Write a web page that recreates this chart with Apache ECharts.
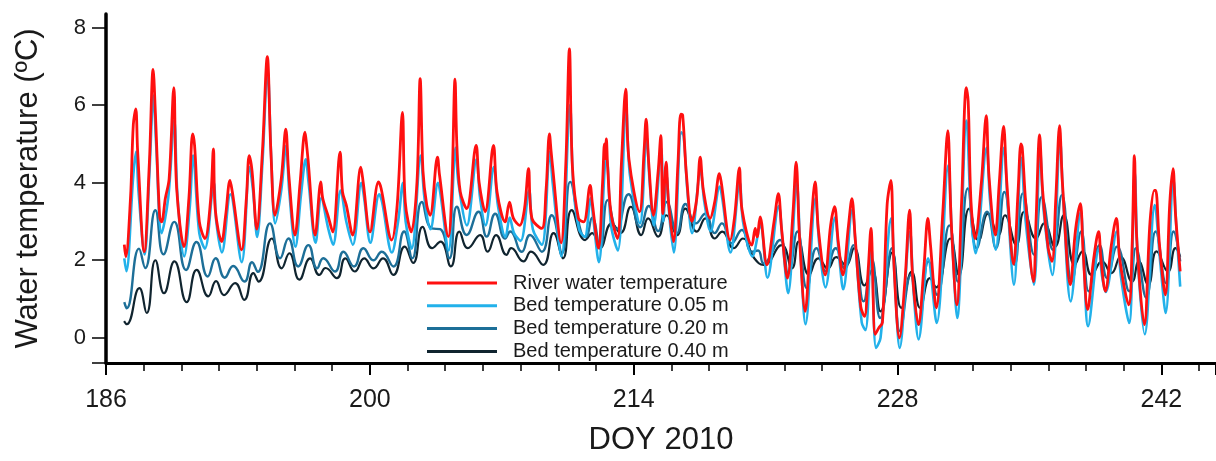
<!DOCTYPE html>
<html>
<head>
<meta charset="utf-8">
<script src="https://cdn.jsdelivr.net/npm/echarts@6/dist/echarts.min.js"></script>
<style>
  html, body { margin: 0; padding: 0; background: #ffffff; }
  #chart { width: 1216px; height: 461px; }
</style>
</head>
<body>
<div id="chart"></div>
<script>
// Day-of-year vs temperature (ºC), peaks and troughs of the diurnal cycle.
const seriesNames = [
  'River water temperature',
  'Bed temperature 0.05 m',
  'Bed temperature 0.20 m',
  'Bed temperature 0.40 m'
];

const river = [
  [186.97, 2.40], [187.05, 2.09], [187.30, 3.6], [187.45, 5.5], [187.58, 5.9], [187.68, 4.8], [188.03, 2.22],
  [188.30, 4.5], [188.50, 6.92], [188.62, 5.8], [188.85, 3.1], [188.95, 2.99], [189.15, 3.6], [189.35, 4.1],
  [189.60, 6.45], [189.75, 3.85], [190.14, 2.35], [190.40, 3.6], [190.60, 5.26], [190.70, 4.96], [190.95, 3.0],
  [191.25, 2.56], [191.55, 3.55], [191.70, 4.87], [191.80, 3.3], [192.14, 2.48], [192.35, 3.16], [192.58, 4.06],
  [192.70, 3.77], [193.20, 2.27], [193.45, 3.6], [193.60, 4.7], [193.75, 4.3], [194.00, 2.8], [194.30, 4.8],
  [194.56, 7.25], [194.75, 4.8], [194.97, 3.16], [195.30, 4.1], [195.54, 5.38], [195.70, 4.2], [196.03, 2.65],
  [196.30, 4.0], [196.56, 5.3], [196.66, 4.9], [196.72, 4.6], [197.10, 2.65], [197.40, 4.02], [197.50, 3.6],
  [197.78, 3.15], [198.03, 2.73], [198.42, 4.79], [198.55, 3.76], [198.75, 3.42], [199.09, 2.65], [199.52, 4.4],
  [199.65, 4.0], [200.01, 2.73], [200.46, 4.02], [200.60, 3.85], [201.16, 2.52], [201.45, 3.42], [201.73, 5.81],
  [201.88, 3.5], [202.20, 2.73], [202.50, 4.0], [202.67, 6.68], [202.82, 4.3], [203.02, 3.42], [203.20, 3.16],
  [203.59, 4.66], [203.70, 4.19], [204.17, 2.61], [204.35, 3.8], [204.52, 6.67], [204.62, 4.95], [204.80, 3.76],
  [205.14, 3.33], [205.64, 4.96], [205.80, 4.0], [206.12, 3.25], [206.56, 4.96], [206.75, 3.76], [207.18, 2.99],
  [207.41, 3.5], [207.62, 3.08], [207.95, 2.9], [208.20, 3.3], [208.42, 4.36], [208.60, 3.08], [209.12, 2.82],
  [209.35, 3.8], [209.53, 5.26], [209.62, 4.8], [209.68, 4.5], [210.15, 2.45], [210.40, 4.5], [210.59, 7.45],
  [210.75, 4.4], [211.07, 3.08], [211.35, 2.99], [211.69, 3.93], [211.80, 3.5], [212.13, 2.31], [212.35, 4.0],
  [212.45, 5.0], [212.50, 4.62], [212.55, 5.13], [212.62, 4.4], [212.80, 3.2], [213.14, 2.56], [213.35, 4.5],
  [213.58, 6.41], [213.75, 4.6], [214.31, 3.25], [214.55, 4.8], [214.66, 5.64], [214.80, 4.5], [215.05, 3.16],
  [215.30, 4.3], [215.44, 5.21], [215.55, 3.2], [215.72, 4.53], [215.85, 3.5], [216.11, 2.48], [216.35, 4.5],
  [216.50, 5.77], [216.60, 5.74], [216.80, 4.2], [217.09, 3.0], [217.35, 3.6], [217.53, 4.66], [217.70, 3.8],
  [218.06, 3.08], [218.30, 3.5], [218.55, 4.23], [218.65, 4.0], [219.12, 2.52], [219.35, 3.1], [219.61, 4.38],
  [219.75, 3.3], [220.27, 2.39], [220.45, 2.82], [220.55, 2.6], [220.71, 3.12], [221.07, 1.88], [221.45, 3.0],
  [221.68, 3.72], [221.85, 2.8], [222.16, 1.54], [222.45, 3.2], [222.62, 4.53], [222.80, 2.6], [223.10, 0.68],
  [223.40, 2.8], [223.63, 4.02], [223.80, 2.8], [224.16, 1.62], [224.45, 2.9], [224.66, 3.38], [224.85, 2.5],
  [225.10, 1.62], [225.40, 2.9], [225.58, 3.59], [225.75, 2.6], [226.05, 0.8], [226.25, 0.55], [226.45, 1.8],
  [226.59, 2.82], [226.82, 0.09], [227.00, 0.25], [227.20, 0.4], [227.45, 3.44], [227.65, 4.06], [227.80, 2.0],
  [228.10, 0.0], [228.40, 1.5], [228.64, 3.29], [228.80, 1.6], [229.11, 0.34], [229.40, 1.8], [229.61, 3.08],
  [229.75, 2.39], [230.06, 0.77], [230.40, 3.2], [230.67, 5.34], [230.85, 3.0], [231.15, 0.85], [231.40, 3.5],
  [231.65, 6.45], [231.75, 6.1], [231.90, 3.5], [232.12, 2.56], [232.45, 4.0], [232.71, 5.73], [232.85, 4.2],
  [233.19, 2.65], [233.40, 4.0], [233.63, 5.45], [233.80, 4.0], [234.16, 1.9], [234.40, 3.8], [234.55, 5.0],
  [234.62, 4.9], [234.80, 3.5], [235.22, 1.45], [235.35, 3.0], [235.54, 5.23], [235.70, 3.8], [236.00, 2.3],
  [236.20, 1.97], [236.40, 3.6], [236.60, 5.47], [236.75, 4.0], [237.17, 1.37], [237.45, 2.8], [237.70, 3.46],
  [237.85, 2.2], [238.09, 0.73], [238.40, 2.0], [238.67, 2.74], [238.80, 2.0], [239.03, 1.2], [239.35, 2.4],
  [239.61, 3.08], [239.80, 2.0], [240.27, 0.85], [240.45, 2.4], [240.57, 4.7], [240.70, 2.5], [241.10, 0.34],
  [241.40, 3.0], [241.63, 3.8], [241.70, 3.8], [241.90, 2.4], [242.21, 1.11], [242.45, 3.5], [242.62, 4.36],
  [242.75, 3.2], [243.00, 1.71]
];

const bed005 = [
  [186.97, 2.05], [187.08, 1.72], [187.45, 4.2], [187.60, 4.8], [187.72, 3.8], [188.05, 2.15], [188.30, 4.2],
  [188.52, 6.25], [188.66, 5.0], [188.95, 2.7], [189.30, 3.6], [189.62, 5.6], [189.80, 3.6], [190.15, 2.1],
  [190.45, 3.4], [190.62, 4.7], [190.95, 2.7], [191.25, 2.3], [191.72, 4.0], [191.85, 3.0], [192.15, 2.2],
  [192.60, 3.7], [193.20, 1.95], [193.62, 4.4], [193.80, 3.8], [194.02, 2.6], [194.30, 4.5], [194.57, 6.9],
  [194.78, 4.5], [194.98, 2.95], [195.30, 3.8], [195.56, 4.95], [195.72, 3.8], [196.05, 2.35], [196.35, 3.7],
  [196.60, 4.6], [196.75, 4.0], [197.12, 2.45], [197.42, 3.6], [197.80, 2.8], [198.05, 2.4], [198.45, 3.8],
  [198.75, 3.0], [199.10, 2.4], [199.55, 4.0], [199.70, 3.6], [200.03, 2.45], [200.50, 3.7], [200.65, 3.5],
  [201.17, 2.2], [201.50, 3.0], [201.76, 4.0], [201.90, 3.0], [202.22, 2.3], [202.70, 4.7], [202.90, 3.6],
  [203.22, 2.8], [203.62, 4.0], [203.75, 3.7], [204.18, 2.25], [204.55, 4.9], [204.70, 4.0], [205.15, 2.9],
  [205.66, 4.6], [205.85, 3.6], [206.14, 2.9], [206.58, 4.4], [206.80, 3.4], [207.20, 2.6], [207.42, 3.1],
  [207.65, 2.7], [208.00, 2.5], [208.45, 3.8], [208.65, 2.8], [209.13, 2.4], [209.55, 4.8], [209.70, 4.0],
  [210.17, 2.1], [210.62, 6.0], [210.80, 3.9], [211.10, 2.8], [211.40, 2.6], [211.72, 3.6], [211.85, 3.1],
  [212.15, 1.95], [212.48, 4.5], [212.57, 4.6], [212.80, 2.9], [213.16, 2.25], [213.60, 5.9], [213.80, 4.2],
  [214.33, 2.95], [214.68, 5.2], [214.85, 4.0], [215.07, 2.9], [215.46, 4.9], [215.57, 3.0], [215.74, 4.2],
  [215.90, 3.1], [216.13, 2.2], [216.53, 5.3], [216.65, 5.2], [216.85, 3.8], [217.10, 2.7], [217.55, 4.3],
  [217.75, 3.5], [218.08, 2.75], [218.57, 3.9], [218.70, 3.6], [219.14, 2.2], [219.63, 4.0], [219.80, 3.0],
  [220.30, 2.1], [220.72, 2.9], [221.10, 1.55], [221.70, 3.4], [221.90, 2.5], [222.20, 1.15], [222.65, 4.0],
  [222.85, 2.2], [223.12, 0.35], [223.65, 3.6], [223.85, 2.4], [224.18, 1.3], [224.68, 3.1], [224.90, 2.1],
  [225.12, 1.25], [225.60, 3.3], [225.80, 2.2], [226.10, 0.4], [226.30, 0.2], [226.60, 2.4], [226.86, -0.26],
  [227.10, 0.0], [227.67, 3.08], [227.85, 1.5], [228.12, -0.26], [228.66, 2.74], [228.85, 1.2], [229.12, -0.04],
  [229.62, 2.05], [230.08, 0.38], [230.69, 4.44], [230.90, 2.5], [231.17, 0.51], [231.66, 5.6], [231.90, 3.2],
  [232.14, 2.18], [232.73, 4.9], [232.90, 3.6], [233.21, 2.27], [233.65, 4.9], [233.85, 3.4], [234.18, 1.37],
  [234.57, 4.64], [234.80, 3.0], [235.24, 1.37], [235.56, 4.9], [235.75, 3.3], [236.22, 1.62], [236.62, 5.13],
  [236.80, 3.5], [237.19, 0.94], [237.72, 3.25], [237.90, 1.8], [238.11, 0.3], [238.69, 2.31], [238.85, 1.6],
  [239.05, 1.18], [239.63, 2.74], [239.85, 1.6], [240.29, 0.38], [240.59, 4.27], [240.75, 2.0], [241.12, 0.09],
  [241.65, 3.42], [241.95, 1.9], [242.23, 0.64], [242.64, 4.1], [242.80, 2.8], [243.00, 1.32]
];

const bed020 = [
  [186.97, 0.92], [187.10, 0.76], [187.75, 2.3], [188.08, 1.8], [188.62, 3.29], [189.05, 2.15], [189.62, 2.99],
  [190.25, 1.75], [190.80, 2.47], [191.40, 1.58], [191.82, 2.05], [192.30, 1.55], [192.75, 1.85], [193.35, 1.45],
  [193.75, 1.95], [194.05, 1.7], [194.70, 2.95], [195.24, 2.05], [195.68, 2.56], [196.20, 1.84], [196.74, 2.39],
  [197.20, 1.79], [197.53, 2.05], [198.15, 1.71], [198.60, 2.22], [199.16, 1.84], [199.66, 2.31], [200.19, 2.0],
  [200.63, 2.22], [201.25, 1.84], [201.82, 2.74], [202.25, 2.05], [202.76, 3.5], [203.29, 2.82], [203.73, 2.8],
  [204.22, 2.05], [204.62, 3.38], [205.14, 2.65], [205.77, 3.25], [206.20, 2.61], [206.65, 3.2], [207.18, 2.56],
  [207.45, 2.74], [208.06, 2.22], [208.50, 2.65], [209.13, 2.22], [209.65, 3.16], [210.20, 2.18], [210.63, 4.02],
  [211.20, 2.74], [211.45, 2.6], [211.80, 3.1], [212.22, 2.3], [212.62, 3.55], [213.10, 2.8], [213.73, 3.7],
  [214.35, 2.85], [214.80, 3.4], [215.30, 2.75], [215.75, 3.5], [216.30, 2.7], [216.75, 3.45], [217.30, 2.95],
  [217.80, 3.2], [218.30, 2.7], [218.68, 2.95], [219.20, 2.44], [219.74, 2.78], [220.27, 2.22], [220.60, 2.25],
  [220.89, 1.92], [221.77, 2.52], [222.20, 1.66], [222.69, 2.74], [223.19, 1.28], [223.70, 2.31], [224.20, 1.71],
  [224.72, 2.31], [225.20, 1.79], [225.65, 2.39], [226.20, 0.94], [226.62, 2.05], [227.08, 0.51], [227.70, 2.31],
  [228.13, 0.17], [228.70, 1.62], [229.12, 0.34], [229.65, 1.97], [230.10, 1.11], [230.75, 2.9], [231.20, 1.45],
  [231.73, 3.85], [232.20, 2.31], [232.75, 3.25], [233.22, 2.31], [233.67, 3.76], [234.22, 1.88], [234.65, 3.72],
  [235.25, 2.14], [235.65, 3.63], [236.25, 2.27], [236.72, 3.68], [237.25, 1.45], [237.75, 2.74], [238.15, 1.2],
  [238.72, 2.39], [239.12, 1.54], [239.65, 2.35], [240.30, 1.2], [240.65, 2.31], [241.20, 1.03], [241.70, 2.74],
  [242.25, 1.41], [242.65, 2.74], [243.00, 1.97]
];

const bed040 = [
  [186.96, 0.43], [187.10, 0.35], [187.77, 1.28], [188.16, 0.64], [188.62, 2.0], [189.08, 1.15], [189.63, 1.97],
  [190.28, 0.92], [190.81, 1.75], [191.43, 1.07], [191.84, 1.46], [192.26, 1.1], [192.85, 1.41], [193.34, 0.98],
  [193.82, 1.67], [194.10, 1.45], [194.80, 2.56], [195.32, 1.79], [195.73, 2.18], [196.26, 1.5], [196.83, 2.05],
  [197.32, 1.62], [197.65, 1.8], [198.25, 1.54], [198.70, 2.05], [199.20, 1.71], [199.70, 2.05], [200.20, 1.79],
  [200.70, 2.05], [201.25, 1.62], [201.85, 2.35], [202.30, 1.93], [202.80, 2.86], [203.30, 2.31], [203.75, 2.48],
  [204.30, 1.84], [204.75, 2.74], [205.20, 2.31], [205.85, 2.65], [206.25, 2.22], [206.70, 2.65], [207.25, 2.14],
  [207.50, 2.31], [208.15, 1.97], [208.55, 2.22], [209.20, 1.88], [209.75, 2.7], [210.25, 2.05], [210.71, 3.29],
  [211.42, 2.52], [211.80, 2.7], [212.20, 2.31], [212.84, 2.95], [213.30, 2.7], [213.85, 3.38], [214.40, 2.65],
  [214.77, 3.08], [215.30, 2.61], [215.74, 3.16], [216.30, 2.65], [216.74, 3.33], [217.35, 2.74], [217.80, 3.08],
  [218.30, 2.56], [218.70, 2.74], [219.30, 2.31], [219.80, 2.56], [220.40, 2.05], [220.90, 1.88], [221.85, 2.39],
  [222.40, 1.79], [222.75, 2.48], [223.30, 1.62], [223.80, 2.05], [224.30, 1.79], [224.75, 2.08], [225.25, 1.88],
  [225.70, 2.31], [226.25, 1.35], [226.65, 1.75], [227.10, 0.68], [227.72, 2.2], [228.20, 0.77], [228.75, 1.71],
  [229.20, 0.77], [229.72, 1.54], [230.05, 1.3], [230.80, 2.56], [231.25, 1.62], [231.80, 3.33], [232.30, 2.52],
  [232.80, 3.2], [233.35, 2.65], [233.70, 3.16], [234.30, 2.4], [234.72, 3.25], [235.35, 2.56], [235.78, 2.95],
  [236.35, 2.35], [236.82, 3.16], [237.40, 1.88], [237.82, 2.23], [238.30, 1.62], [238.85, 1.97], [239.35, 1.67],
  [239.83, 2.09], [240.45, 1.45], [240.80, 1.97], [241.30, 1.37], [241.75, 2.23], [242.35, 1.71], [242.75, 2.31],
  [243.00, 2.09]
];

const xTicks = { min: 186, max: 244.9, interval: 14, minorSplit: 7 };
const yLabelValues = [0, 2, 4, 6, 8];
const yTickValues = [-0.65, 0, 2, 4, 6, 8];
const yRange = { min: -0.65, max: 8.35 };

const colors = ['#ff1010', '#22b1ea', '#1d6f98', '#10242f'];

const chart = echarts.init(document.getElementById('chart'), null, { renderer: 'canvas' });

function lineSeries(name, data, color, width, smooth, z) {
  return {
    name: name,
    type: 'line',
    data: data,
    showSymbol: false,
    symbol: 'none',
    smooth: smooth,
    z: z,
    lineStyle: { color: color, width: width, join: 'round' },
    itemStyle: { color: color },
    emphasis: { disabled: true }
  };
}

const option = {
  animation: false,
  backgroundColor: '#ffffff',
  textStyle: { fontFamily: 'Liberation Sans, Arial, sans-serif' },
  grid: { left: 106, right: 0, top: 14, bottom: 96, containLabel: false },
  legend: {
    orient: 'vertical',
    left: 422,
    top: 268,
    icon: 'rect',
    itemWidth: 70,
    itemHeight: 3,
    itemGap: 2.8,
    data: seriesNames,
    textStyle: { fontSize: 20, color: '#1a1a1a', padding: [0, 0, 0, 11], lineHeight: 20 }
  },
  xAxis: {
    type: 'value',
    min: xTicks.min,
    max: xTicks.max,
    interval: xTicks.interval,
    name: 'DOY 2010',
    nameLocation: 'middle',
    nameGap: 62,
    nameTextStyle: { fontSize: 31, color: '#1a1a1a' },
    axisLine: { show: true, onZero: false, lineStyle: { color: '#000', width: 3 } },
    axisTick: { show: true, length: 12, lineStyle: { color: '#000', width: 2 } },
    minorTick: { show: true, splitNumber: xTicks.minorSplit, length: 8, lineStyle: { color: '#000', width: 1.5 } },
    axisLabel: { fontSize: 25, color: '#1a1a1a', margin: 25, showMaxLabel: false },
    splitLine: { show: false },
    minorSplitLine: { show: false }
  },
  yAxis: {
    type: 'value',
    min: yRange.min,
    max: yRange.max,
    name: 'Water temperature (ºC)',
    nameLocation: 'middle',
    nameRotate: 90,
    nameGap: 62,
    nameTextStyle: { fontSize: 31, color: '#1a1a1a' },
    axisLine: { show: true, onZero: false, lineStyle: { color: '#000', width: 3.5 } },
    axisTick: { show: true, length: 14, customValues: yTickValues, lineStyle: { color: '#000', width: 1.5 } },
    axisLabel: { fontSize: 22, color: '#1a1a1a', margin: 20, customValues: yLabelValues },
    splitLine: { show: false }
  },
  series: [
    lineSeries(seriesNames[3], bed040, colors[3], 2.2, 0.5, 2),
    lineSeries(seriesNames[2], bed020, colors[2], 2.4, 0.5, 3),
    lineSeries(seriesNames[1], bed005, colors[1], 2.6, 0.35, 4),
    lineSeries(seriesNames[0], river, colors[0], 2.8, 0.35, 5)
  ]
};

chart.setOption(option);
</script>
</body>
</html>
